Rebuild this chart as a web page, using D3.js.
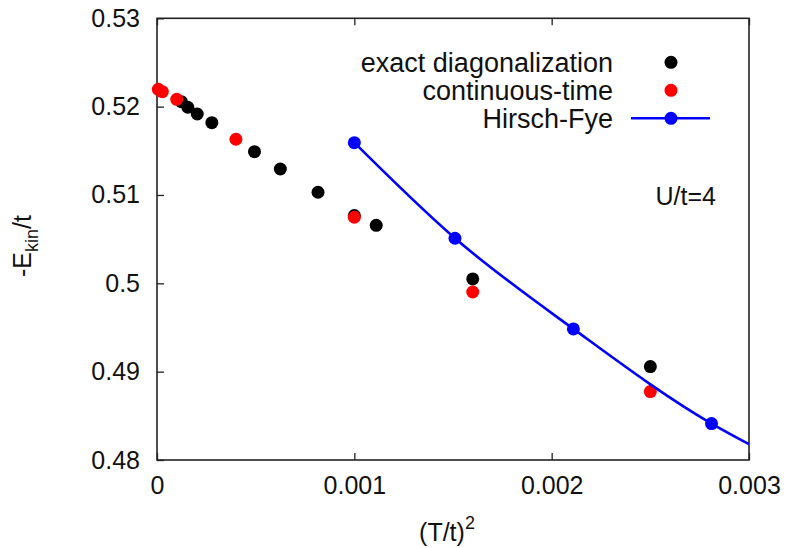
<!DOCTYPE html>
<html>
<head>
<meta charset="utf-8">
<script src="https://cdn.jsdelivr.net/npm/d3@7"></script>
<style>
  html, body { margin: 0; padding: 0; background: #fff; }
  svg { display: block; font-family: "Liberation Sans", Arial, Helvetica, sans-serif; }
</style>
</head>
<body>
<svg id="chart" width="791" height="548"></svg>
<script>
// ---- data ----
const edX = [0.0001235, 0.00015625, 0.000204, 0.000278, 0.000494, 0.000625, 0.000816, 0.001, 0.001111, 0.0016, 0.0025];
const edY = [0.52056, 0.51993, 0.51917, 0.51818, 0.51490, 0.51294, 0.51031, 0.50768, 0.50657, 0.50050, 0.49057];

const ctX = [0.0000066, 0.000027, 0.0001, 0.0004, 0.001, 0.0016, 0.0025];
const ctY = [0.52196, 0.52169, 0.52083, 0.51631, 0.50748, 0.49902, 0.48774];

const hfX = [0.001, 0.00151, 0.00211, 0.00281];
const hfY = [0.51592, 0.50510, 0.49484, 0.48412];

// fitted Hirsch-Fye curve
const fitX = [0.001, 0.00151, 0.00211, 0.00281, 0.003];
const fitY = [0.51592, 0.50510, 0.49484, 0.48412, 0.48179];

const xTicks = [0, 0.001, 0.002, 0.003];
const xTickLabels = ["0", "0.001", "0.002", "0.003"];
const yTicks = [0.48, 0.49, 0.50, 0.51, 0.52, 0.53];
const yTickLabels = ["0.48", "0.49", "0.5", "0.51", "0.52", "0.53"];

const legendLabels = ["exact diagonalization", "continuous-time", "Hirsch-Fye"];
const annotation = "U/t=4";

// ---- layout ----
const pLeft = 157, pRight = 749, pTop = 18.3, pBottom = 460;
const svg = d3.select("#chart");

const x = d3.scaleLinear().domain([0, 0.003]).range([pLeft, pRight]);
const y = d3.scaleLinear().domain([0.48, 0.53]).range([pBottom, pTop]);

const tickLen = 7;
const fontSize = 25;

const xAxis = d3.axisBottom(x).tickValues(xTicks).tickFormat((d, i) => xTickLabels[i])
  .tickSizeInner(-tickLen).tickSizeOuter(0).tickPadding(16);
const yAxis = d3.axisLeft(y).tickValues(yTicks).tickFormat((d, i) => yTickLabels[i])
  .tickSizeInner(-tickLen).tickSizeOuter(0).tickPadding(17);
const xAxisTop = d3.axisTop(x).tickValues(xTicks).tickFormat("")
  .tickSizeInner(-tickLen).tickSizeOuter(0);

const gx = svg.append("g").attr("transform", `translate(0,${pBottom})`).call(xAxis);
const gy = svg.append("g").attr("transform", `translate(${pLeft},0)`).call(yAxis);
const gxt = svg.append("g").attr("transform", `translate(0,${pTop})`).call(xAxisTop);

[gx, gy, gxt].forEach(g => {
  g.select(".domain").remove();
  g.selectAll(".tick line").attr("stroke", "#222").attr("stroke-width", 1.3);
  g.selectAll(".tick text").attr("fill", "#111").style("font-size", fontSize + "px")
    .style("font-family", '"Liberation Sans", Arial, sans-serif');
});
gx.selectAll(".tick text").attr("dy", "0.71em");

// frame
svg.append("rect")
  .attr("x", pLeft).attr("y", pTop)
  .attr("width", pRight - pLeft).attr("height", pBottom - pTop)
  .attr("fill", "none").attr("stroke", "#222").attr("stroke-width", 1.6);

svg.append("clipPath").attr("id", "clip").append("rect")
  .attr("x", pLeft).attr("y", pTop).attr("width", pRight - pLeft).attr("height", pBottom - pTop);

const plot = svg.append("g");
const r = 6.5;

plot.selectAll("circle.ed").data(edX.map((d, i) => [d, edY[i]])).enter()
  .append("circle").attr("class", "ed")
  .attr("cx", d => x(d[0])).attr("cy", d => y(d[1])).attr("r", r).attr("fill", "#000");

plot.selectAll("circle.ct").data(ctX.map((d, i) => [d, ctY[i]])).enter()
  .append("circle").attr("class", "ct")
  .attr("cx", d => x(d[0])).attr("cy", d => y(d[1])).attr("r", r).attr("fill", "#ff0000");

const line = d3.line().x(d => x(d[0])).y(d => y(d[1])).curve(d3.curveMonotoneX);
plot.append("path").datum(fitX.map((d, i) => [d, fitY[i]]))
  .attr("d", line).attr("fill", "none").attr("stroke", "#0000ff").attr("stroke-width", 2.6)
  .attr("clip-path", "url(#clip)");
plot.selectAll("circle.hf").data(hfX.map((d, i) => [d, hfY[i]])).enter()
  .append("circle").attr("class", "hf")
  .attr("cx", d => x(d[0])).attr("cy", d => y(d[1])).attr("r", r).attr("fill", "#0000ff");

// legend
const legX = 613, legMarkX = 671, legY0 = 62.3, legDy = 28;
const legColors = ["#000", "#ff0000", "#0000ff"];
const lg = svg.append("g");
legendLabels.forEach((t, i) => {
  const yy = legY0 + i * legDy;
  lg.append("text").attr("x", legX).attr("y", yy).attr("dy", "0.35em")
    .attr("text-anchor", "end").style("font-size", "27px").attr("fill", "#111").text(t);
  if (i === 2) {
    lg.append("line").attr("x1", 631).attr("x2", 710).attr("y1", yy).attr("y2", yy)
      .attr("stroke", "#0000ff").attr("stroke-width", 2.6);
  }
  lg.append("circle").attr("cx", legMarkX).attr("cy", yy).attr("r", r).attr("fill", legColors[i]);
});

svg.append("text").attr("x", 716).attr("y", 205).attr("text-anchor", "end")
  .style("font-size", "25px").attr("fill", "#111").text(annotation);

const xt = svg.append("text").attr("x", 447).attr("y", 541).attr("text-anchor", "middle")
  .style("font-size", fontSize + "px").attr("fill", "#111");
xt.append("tspan").text("(T/t)");
xt.append("tspan").attr("dy", -12).style("font-size", "18px").text("2");

const yt = svg.append("text").attr("transform", "translate(31,246) rotate(-90)")
  .attr("text-anchor", "middle").style("font-size", fontSize + "px").attr("fill", "#111");
yt.append("tspan").text("-E");
yt.append("tspan").attr("dy", 7).style("font-size", "18px").text("kin");
yt.append("tspan").attr("dy", -7).text("/t");
</script>
</body>
</html>
